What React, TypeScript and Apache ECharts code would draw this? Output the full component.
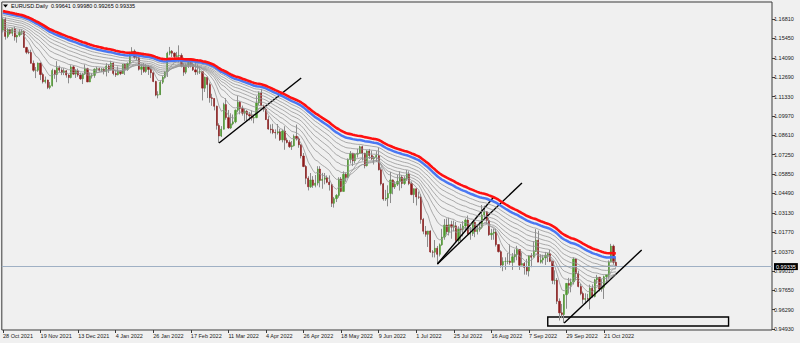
import { useEffect, useRef } from 'react';
import * as echarts from 'echarts';

// ---- data (EURUSD daily, 28 Oct 2021 .. 28 Oct 2022) ----
const CLOSE = [
  1.1681, 1.1558, 1.1607, 1.1580, 1.1612, 1.1554, 1.1567, 1.1588, 1.1592, 1.1480,
  1.1446, 1.1445, 1.1368, 1.1319, 1.1319, 1.1370, 1.1289, 1.1238, 1.1250, 1.1198,
  1.1210, 1.1318, 1.1290, 1.1337, 1.1320, 1.1303, 1.1315, 1.1285, 1.1268, 1.1343,
  1.1292, 1.1315, 1.1285, 1.1259, 1.1292, 1.1330, 1.1237, 1.1278, 1.1283, 1.1327,
  1.1330, 1.1320, 1.1328, 1.1311, 1.1350, 1.1324, 1.1370, 1.1297, 1.1287, 1.1313,
  1.1296, 1.1360, 1.1325, 1.1367, 1.1443, 1.1454, 1.1410, 1.1407, 1.1326, 1.1343,
  1.1311, 1.1344, 1.1325, 1.1302, 1.1240, 1.1144, 1.1146, 1.1235, 1.1270, 1.1305,
  1.1440, 1.1454, 1.1440, 1.1416, 1.1421, 1.1424, 1.1350, 1.1306, 1.1357, 1.1374,
  1.1360, 1.1322, 1.1307, 1.1307, 1.1309, 1.1193, 1.1270, 1.1218, 1.1125, 1.1120,
  1.1065, 1.0930, 1.0855, 1.0903, 1.1077, 1.0985, 1.0912, 1.0941, 1.0955, 1.1037,
  1.1093, 1.1050, 1.1016, 1.1030, 1.1006, 1.0997, 1.0982, 1.0985, 1.1088, 1.1158,
  1.1067, 1.1045, 1.0971, 1.0904, 1.0900, 1.0880, 1.0877, 1.0885, 1.0828, 1.0890,
  1.0826, 1.0810, 1.0780, 1.0787, 1.0853, 1.0835, 1.0793, 1.0714, 1.0640, 1.0557,
  1.0497, 1.0545, 1.0507, 1.0523, 1.0622, 1.0542, 1.0550, 1.0560, 1.0529, 1.0512,
  1.0380, 1.0413, 1.0436, 1.0552, 1.0464, 1.0585, 1.0563, 1.0690, 1.0733, 1.0680,
  1.0727, 1.0733, 1.0780, 1.0734, 1.0646, 1.0750, 1.0718, 1.0694, 1.0705, 1.0718,
  1.0617, 1.0518, 1.0410, 1.0417, 1.0450, 1.0545, 1.0495, 1.0515, 1.0535, 1.0565,
  1.0520, 1.0555, 1.0585, 1.0520, 1.0442, 1.0483, 1.0425, 1.0423, 1.0266, 1.0183,
  1.0161, 1.0185, 1.0037, 1.0035, 1.0063, 1.0020, 1.0087, 1.0142, 1.0227, 1.0180,
  1.0229, 1.0212, 1.0221, 1.0118, 1.0198, 1.0196, 1.0220, 1.0262, 1.0163, 1.0167,
  1.0246, 1.0181, 1.0196, 1.0211, 1.0298, 1.0320, 1.0258, 1.0158, 1.0169, 1.0177,
  1.0089, 1.0039, 0.9944, 0.9970, 0.9970, 0.9972, 0.9963, 1.0003, 1.0018, 1.0054,
  0.9943, 0.9955, 0.9928, 0.9902, 1.0010, 1.0000, 1.0040, 1.0120, 0.9965, 0.9980,
  0.9995, 1.0014, 1.0025, 0.9971, 0.9836, 0.9837, 0.9689, 0.9607, 0.9595, 0.9735,
  0.9815, 0.9802, 0.9825, 0.9987, 0.9884, 0.9793, 0.9743, 0.9702, 0.9708, 0.9707,
  0.9781, 0.9723, 0.9840, 0.9858, 0.9775, 0.9787, 0.9862, 0.9876, 0.9965, 1.0078,
  0.99641, 0.99335,
];

const OPEN = [
  1.1603, 1.1681, 1.1558, 1.1607, 1.1580, 1.1612, 1.1554, 1.1567, 1.1588, 1.1592,
  1.1480, 1.1446, 1.1445, 1.1368, 1.1319, 1.1319, 1.1370, 1.1289, 1.1238, 1.1250,
  1.1198, 1.1210, 1.1318, 1.1290, 1.1337, 1.1320, 1.1303, 1.1315, 1.1285, 1.1268,
  1.1343, 1.1292, 1.1315, 1.1285, 1.1259, 1.1292, 1.1330, 1.1237, 1.1278, 1.1283,
  1.1327, 1.1330, 1.1320, 1.1328, 1.1311, 1.1350, 1.1324, 1.1370, 1.1297, 1.1287,
  1.1313, 1.1296, 1.1360, 1.1325, 1.1367, 1.1443, 1.1454, 1.1410, 1.1407, 1.1326,
  1.1343, 1.1311, 1.1344, 1.1325, 1.1302, 1.1240, 1.1144, 1.1146, 1.1235, 1.1270,
  1.1305, 1.1440, 1.1454, 1.1440, 1.1416, 1.1421, 1.1424, 1.1350, 1.1306, 1.1357,
  1.1374, 1.1360, 1.1322, 1.1307, 1.1307, 1.1309, 1.1193, 1.1270, 1.1218, 1.1125,
  1.1120, 1.1065, 1.0930, 1.0855, 1.0903, 1.1077, 1.0985, 1.0912, 1.0941, 1.0955,
  1.1037, 1.1093, 1.1050, 1.1016, 1.1030, 1.1006, 1.0997, 1.0982, 1.0985, 1.1088,
  1.1158, 1.1067, 1.1045, 1.0971, 1.0904, 1.0900, 1.0880, 1.0877, 1.0885, 1.0828,
  1.0890, 1.0826, 1.0810, 1.0780, 1.0787, 1.0853, 1.0835, 1.0793, 1.0714, 1.0640,
  1.0557, 1.0497, 1.0545, 1.0507, 1.0523, 1.0622, 1.0542, 1.0550, 1.0560, 1.0529,
  1.0512, 1.0380, 1.0413, 1.0436, 1.0552, 1.0464, 1.0585, 1.0563, 1.0690, 1.0733,
  1.0680, 1.0727, 1.0733, 1.0780, 1.0734, 1.0646, 1.0750, 1.0718, 1.0694, 1.0705,
  1.0718, 1.0617, 1.0518, 1.0410, 1.0417, 1.0450, 1.0545, 1.0495, 1.0515, 1.0535,
  1.0565, 1.0520, 1.0555, 1.0585, 1.0520, 1.0442, 1.0483, 1.0425, 1.0423, 1.0266,
  1.0183, 1.0161, 1.0185, 1.0037, 1.0035, 1.0063, 1.0020, 1.0087, 1.0142, 1.0227,
  1.0180, 1.0229, 1.0212, 1.0221, 1.0118, 1.0198, 1.0196, 1.0220, 1.0262, 1.0163,
  1.0167, 1.0246, 1.0181, 1.0196, 1.0211, 1.0298, 1.0320, 1.0258, 1.0158, 1.0169,
  1.0177, 1.0089, 1.0039, 0.9944, 0.9970, 0.9970, 0.9972, 0.9963, 1.0003, 1.0018,
  1.0054, 0.9943, 0.9955, 0.9928, 0.9902, 1.0010, 1.0000, 1.0040, 1.0120, 0.9965,
  0.9980, 0.9995, 1.0014, 1.0025, 0.9971, 0.9836, 0.9837, 0.9689, 0.9607, 0.9595,
  0.9735, 0.9815, 0.9802, 0.9825, 0.9987, 0.9884, 0.9793, 0.9743, 0.9702, 0.9708,
  0.9707, 0.9781, 0.9723, 0.9840, 0.9858, 0.9775, 0.9787, 0.9862, 0.9876, 0.9965,
  1.0078, 0.99641,
];

const HIGH = [
  1.1692, 1.1692, 1.1616, 1.1613, 1.1616, 1.1628, 1.1570, 1.1609, 1.1608, 1.1594,
  1.1485, 1.1465, 1.1464, 1.1388, 1.1342, 1.1374, 1.1374, 1.1302, 1.1275, 1.1253,
  1.1236, 1.1330, 1.1323, 1.1383, 1.1352, 1.1334, 1.1334, 1.1321, 1.1292, 1.1355,
  1.1353, 1.1326, 1.1331, 1.1302, 1.1300, 1.1360, 1.1337, 1.1303, 1.1298, 1.1333,
  1.1344, 1.1338, 1.1336, 1.1334, 1.1369, 1.1361, 1.1386, 1.1376, 1.1322, 1.1346,
  1.1319, 1.1364, 1.1366, 1.1375, 1.1449, 1.1482, 1.1466, 1.1430, 1.1412, 1.1363,
  1.1370, 1.1363, 1.1356, 1.1335, 1.1306, 1.1245, 1.1171, 1.1248, 1.1282, 1.1313,
  1.1450, 1.1484, 1.1462, 1.1446, 1.1449, 1.1495, 1.1439, 1.1369, 1.1368, 1.1395,
  1.1390, 1.1375, 1.1395, 1.1361, 1.1346, 1.1312, 1.1274, 1.1275, 1.1233, 1.1153,
  1.1122, 1.1070, 1.0945, 1.0925, 1.1090, 1.1122, 1.1039, 1.1016, 1.1007, 1.1043,
  1.1137, 1.1101, 1.1070, 1.1048, 1.1038, 1.1024, 1.1036, 1.0999, 1.1138, 1.1170,
  1.1185, 1.1076, 1.1054, 1.0995, 1.0937, 1.0941, 1.0902, 1.0940, 1.0905, 1.0900,
  1.0924, 1.0843, 1.0825, 1.0820, 1.0866, 1.0936, 1.0851, 1.0796, 1.0735, 1.0650,
  1.0571, 1.0594, 1.0572, 1.0580, 1.0642, 1.0642, 1.0595, 1.0594, 1.0577, 1.0577,
  1.0518, 1.0425, 1.0445, 1.0564, 1.0566, 1.0606, 1.0598, 1.0697, 1.0749, 1.0737,
  1.0734, 1.0765, 1.0787, 1.0787, 1.0737, 1.0755, 1.0764, 1.0752, 1.0714, 1.0748,
  1.0774, 1.0634, 1.0524, 1.0475, 1.0507, 1.0601, 1.0549, 1.0536, 1.0582, 1.0605,
  1.0580, 1.0571, 1.0615, 1.0606, 1.0534, 1.0485, 1.0486, 1.0463, 1.0445, 1.0277,
  1.0220, 1.0186, 1.0190, 1.0050, 1.0121, 1.0079, 1.0097, 1.0200, 1.0269, 1.0273,
  1.0278, 1.0257, 1.0258, 1.0248, 1.0218, 1.0234, 1.0254, 1.0274, 1.0294, 1.0213,
  1.0254, 1.0252, 1.0230, 1.0249, 1.0368, 1.0364, 1.0325, 1.0277, 1.0200, 1.0202,
  1.0200, 1.0090, 1.0049, 0.9999, 0.9999, 1.0029, 1.0090, 1.0029, 1.0055, 1.0080,
  1.0057, 1.0033, 0.9966, 0.9988, 1.0012, 1.0029, 1.0113, 1.0198, 1.0187, 1.0020,
  1.0017, 1.0037, 1.0030, 1.0051, 0.9976, 0.9907, 0.9853, 0.9709, 0.9670, 0.9740,
  0.9817, 0.9854, 0.9849, 0.9999, 0.9991, 0.9905, 0.9813, 0.9757, 0.9745, 0.9741,
  0.9806, 0.9808, 0.9847, 0.9875, 0.9861, 0.9845, 0.9870, 0.9874, 0.9977, 1.0094,
  1.0089, 0.99980,
];

const LOW = [
  1.1586, 1.1535, 1.1545, 1.1569, 1.1560, 1.1528, 1.1514, 1.1555, 1.1568, 1.1478,
  1.1433, 1.1433, 1.1367, 1.1308, 1.1264, 1.1308, 1.1250, 1.1226, 1.1226, 1.1186,
  1.1185, 1.1204, 1.1259, 1.1235, 1.1305, 1.1285, 1.1285, 1.1267, 1.1227, 1.1262,
  1.1285, 1.1265, 1.1273, 1.1251, 1.1222, 1.1287, 1.1235, 1.1235, 1.1261, 1.1266,
  1.1302, 1.1310, 1.1305, 1.1290, 1.1276, 1.1300, 1.1318, 1.1284, 1.1272, 1.1283,
  1.1285, 1.1294, 1.1286, 1.1315, 1.1358, 1.1436, 1.1400, 1.1389, 1.1317, 1.1286,
  1.1301, 1.1301, 1.1286, 1.1264, 1.1235, 1.1136, 1.1121, 1.1145, 1.1222, 1.1265,
  1.1272, 1.1425, 1.1413, 1.1395, 1.1410, 1.1374, 1.1340, 1.1280, 1.1292, 1.1335,
  1.1339, 1.1314, 1.1286, 1.1288, 1.1293, 1.1106, 1.1166, 1.1123, 1.1090, 1.1068,
  1.1036, 1.0900, 1.0806, 1.0848, 1.0901, 1.0970, 1.0905, 1.0905, 1.0931, 1.0945,
  1.1023, 1.1008, 1.0999, 1.0962, 1.0962, 1.0965, 1.0964, 1.0945, 1.0981, 1.1073,
  1.1067, 1.1027, 1.0968, 1.0899, 1.0874, 1.0868, 1.0837, 1.0865, 1.0820, 1.0810,
  1.0758, 1.0803, 1.0771, 1.0757, 1.0781, 1.0823, 1.0772, 1.0697, 1.0635, 1.0515,
  1.0471, 1.0489, 1.0489, 1.0493, 1.0506, 1.0493, 1.0483, 1.0514, 1.0522, 1.0470,
  1.0354, 1.0350, 1.0389, 1.0420, 1.0458, 1.0462, 1.0532, 1.0560, 1.0661, 1.0643,
  1.0662, 1.0703, 1.0728, 1.0682, 1.0627, 1.0640, 1.0693, 1.0685, 1.0654, 1.0672,
  1.0612, 1.0506, 1.0398, 1.0397, 1.0359, 1.0382, 1.0444, 1.0481, 1.0502, 1.0470,
  1.0487, 1.0510, 1.0539, 1.0508, 1.0437, 1.0382, 1.0365, 1.0410, 1.0236, 1.0162,
  1.0144, 1.0072, 1.0030, 0.9999, 0.9998, 0.9952, 1.0005, 1.0080, 1.0123, 1.0160,
  1.0153, 1.0130, 1.0181, 1.0107, 1.0096, 1.0113, 1.0146, 1.0180, 1.0160, 1.0123,
  1.0150, 1.0141, 1.0160, 1.0180, 1.0200, 1.0276, 1.0234, 1.0150, 1.0122, 1.0123,
  1.0075, 1.0033, 0.9926, 0.9901, 0.9911, 0.9950, 0.9946, 0.9910, 0.9962, 0.9978,
  0.9910, 0.9943, 0.9877, 0.9876, 0.9864, 0.9929, 0.9998, 1.0036, 0.9966, 0.9955,
  0.9955, 0.9945, 0.9966, 0.9965, 0.9810, 0.9807, 0.9669, 0.9553, 0.9570, 0.9535,
  0.9636, 0.9743, 0.9752, 0.9807, 0.9835, 0.9787, 0.9731, 0.9671, 0.9669, 0.9686,
  0.9632, 0.9713, 0.9716, 0.9812, 0.9758, 0.9756, 0.9705, 0.9810, 0.9850, 0.9964,
  0.9947, 0.99265,
];

const X_LABELS = [
  '28 Oct 2021', '19 Nov 2021', '13 Dec 2021', '4 Jan 2022', '26 Jan 2022', '17 Feb 2022',
  '11 Mar 2022', '4 Apr 2022', '26 Apr 2022', '18 May 2022', '9 Jun 2022', '1 Jul 2022',
  '25 Jul 2022', '16 Aug 2022', '7 Sep 2022', '29 Sep 2022', '21 Oct 2022',
];
const LABEL_EVERY = 16;
const AXIS_SLOTS = 328; // bars + empty right shift

const Y_TICKS = [
  '0.94930', '0.96290', '0.97650', '0.99010', '1.00370', '1.01770', '1.03130', '1.04490',
  '1.05850', '1.07250', '1.08610', '1.09970', '1.11330', '1.12690', '1.14090', '1.15450', '1.16810',
];

// moving-average ribbon: periods and their values at the first visible bar
const EMA_PERIODS = [8, 16, 24, 32, 40, 48, 56, 64, 72, 80];
const EMA_SEEDS = [1.15984, 1.16154, 1.16316, 1.16457, 1.16619, 1.16789, 1.1693, 1.17092, 1.17255, 1.17375];
const EMA_COLORS = ['#979797', '#979797', '#979797', '#979797', '#979797', '#979797', '#979797', '#979797', '#4a78f2', '#ff1010'];
const EMA_WIDTHS = [0.8, 0.8, 0.8, 0.8, 0.8, 0.8, 0.8, 0.8, 2.5, 2.6];

// drawn trend lines [startBar, startPrice, endBar, endPrice]
const TRENDLINES = [
  [92, 1.0806, 127, 1.1265],
  [185, 0.9952, 209, 1.0425],
  [185, 0.9952, 221, 1.0524],
  [239, 0.9535, 272, 1.0051],
];
// drawn rectangle [startBar, topPrice, endBar, bottomPrice]
const BOX = [232, 0.95777, 309, 0.95141];

const FONT = 'Liberation Sans, Arial, sans-serif';

function ema(values: number[], period: number, seed: number) {
  const k = 2 / (period + 1);
  const out = [seed];
  for (let i = 1; i < values.length; i++) out.push(out[i - 1] + k * (values[i] - out[i - 1]));
  return out;
}

export default function App() {
  const ref = useRef<HTMLDivElement>(null);
  useEffect(() => {
    const chart = echarts.init(ref.current!, null, { renderer: 'svg' });

    const PLOT_TOP = 2, PLOT_H = 328, LAB_TOP = 19, LAB_H = 310, LEFT = 1, WIDTH = 771;
    const yLo = parseFloat(Y_TICKS[0]);
    const yHi = parseFloat(Y_TICKS[Y_TICKS.length - 1]);
    const perPx = (yHi - yLo) / LAB_H;
    const yMax = yHi + (LAB_TOP - PLOT_TOP) * perPx;
    const yMin = yLo - (PLOT_TOP + PLOT_H - (LAB_TOP + LAB_H)) * perPx;

    const cats = Array.from({ length: AXIS_SLOTS }, (_, i) => String(i));
    const n = CLOSE.length;
    const wickData = CLOSE.map((c, i) => [OPEN[i], c, LOW[i], HIGH[i]]);
    const bodyData = CLOSE.map((c, i) => [OPEN[i], c, Math.min(OPEN[i], c), Math.max(OPEN[i], c)]);
    const showIdx = (i: number) => i % LABEL_EVERY === 0 && i / LABEL_EVERY < X_LABELS.length;
    const last = n - 1;
    const header = `EURUSD.Daily  ${OPEN[last].toFixed(5)} ${HIGH[last].toFixed(5)} ${LOW[last].toFixed(5)} ${CLOSE[last].toFixed(5)}`;

    const emaSeries = EMA_PERIODS.map((p, j) => ({
      type: 'line',
      xAxisIndex: 0,
      yAxisIndex: 0,
      data: ema(CLOSE, p, EMA_SEEDS[j]),
      showSymbol: false,
      symbol: 'none',
      silent: true,
      clip: true,
      z: 3 + j,
      lineStyle: { color: EMA_COLORS[j], width: EMA_WIDTHS[j] },
    }));

    chart.setOption({
      animation: false,
      backgroundColor: '#f0f0f0',
      textStyle: { fontFamily: FONT },
      grid: [
        { left: LEFT, top: PLOT_TOP, width: WIDTH, height: PLOT_H, show: true, borderColor: '#3a3a3a', borderWidth: 1, backgroundColor: 'transparent' },
        { left: LEFT, top: LAB_TOP, width: WIDTH, height: LAB_H, show: false },
      ],
      xAxis: [
        {
          gridIndex: 0, type: 'category', data: cats, boundaryGap: true,
          axisLine: { show: false },
          axisTick: { show: true, interval: (i: number) => showIdx(i), alignWithLabel: true, length: 3, lineStyle: { color: '#3a3a3a' } },
          axisLabel: {
            interval: (i: number) => showIdx(i),
            formatter: (_v: string, i: number) => (showIdx(i) ? X_LABELS[i / LABEL_EVERY] : ''),
            fontSize: 5.5, color: '#1a1a1a', align: 'left', margin: 3, fontFamily: FONT,
          },
          splitLine: { show: false },
        },
        { gridIndex: 1, type: 'category', data: cats, show: false },
      ],
      yAxis: [
        { gridIndex: 0, type: 'value', min: yMin, max: yMax, show: false, splitLine: { show: false } },
        {
          gridIndex: 1, type: 'value', min: 0, max: Y_TICKS.length - 1, interval: 1, position: 'right',
          axisLine: { show: false },
          axisTick: { show: true, length: 3, lineStyle: { color: '#3a3a3a' } },
          axisLabel: { formatter: (v: number) => Y_TICKS[Math.round(v)] ?? '', fontSize: 5.5, color: '#1a1a1a', margin: 2, fontFamily: FONT },
          splitLine: { show: false },
        },
      ],
      series: [
        {
          type: 'line', xAxisIndex: 0, yAxisIndex: 0, data: [], z: 1, silent: true,
          markLine: {
            symbol: ['none', 'none'], silent: true, animation: false, precision: 5,
            lineStyle: { color: '#9fb0c4', width: 1, type: 'solid' },
            label: {
              show: true, position: 'end', formatter: CLOSE[last].toFixed(5), distance: 2,
              backgroundColor: '#000', color: '#fff', fontSize: 5.5, padding: [1, 2, 0, 2], fontFamily: FONT,
            },
            data: [{ yAxis: CLOSE[last] }],
          },
        },
        {
          type: 'candlestick', xAxisIndex: 0, yAxisIndex: 0, data: wickData, barWidth: 1, z: 2, silent: true,
          itemStyle: { color: '#8c8c8c', color0: '#8c8c8c', borderColor: '#8c8c8c', borderColor0: '#8c8c8c', borderWidth: 1 },
        },
        {
          type: 'candlestick', xAxisIndex: 0, yAxisIndex: 0, data: bodyData, barWidth: 1.7, z: 2, silent: true,
          itemStyle: { color: '#4e9a2e', color0: '#8e1b1b', borderColor: '#4e9a2e', borderColor0: '#8e1b1b', borderWidth: 0.5 },
        },
        ...emaSeries,
        {
          type: 'line', xAxisIndex: 0, yAxisIndex: 0, data: [], z: 20, silent: true,
          markLine: {
            symbol: ['none', 'none'], silent: true, animation: false, precision: 5,
            label: { show: false },
            lineStyle: { color: '#000', width: 1.4, type: 'solid' },
            data: TRENDLINES.map((t) => [{ coord: [t[0], t[1]] }, { coord: [t[2], t[3]] }]),
          },
          markArea: {
            silent: true,
            itemStyle: { color: 'rgba(0,0,0,0)', borderColor: '#000', borderWidth: 1.4 },
            data: [[{ coord: [BOX[0], BOX[1]] }, { coord: [BOX[2], BOX[3]] }]],
          },
        },
      ],
      graphic: [
        { type: 'polygon', shape: { points: [[3, 4.5], [8, 4.5], [5.5, 7.5]] }, style: { fill: '#000' }, z: 30 },
        { type: 'text', left: 11, top: 3, style: { text: header, fontSize: 5.5, fill: '#000', fontFamily: FONT }, z: 30 },
      ],
    });
    return () => chart.dispose();
  }, []);
  return <div ref={ref} style={{ position: 'fixed', left: 0, top: 0, width: 800, height: 343, background: '#f0f0f0' }} />;
}
